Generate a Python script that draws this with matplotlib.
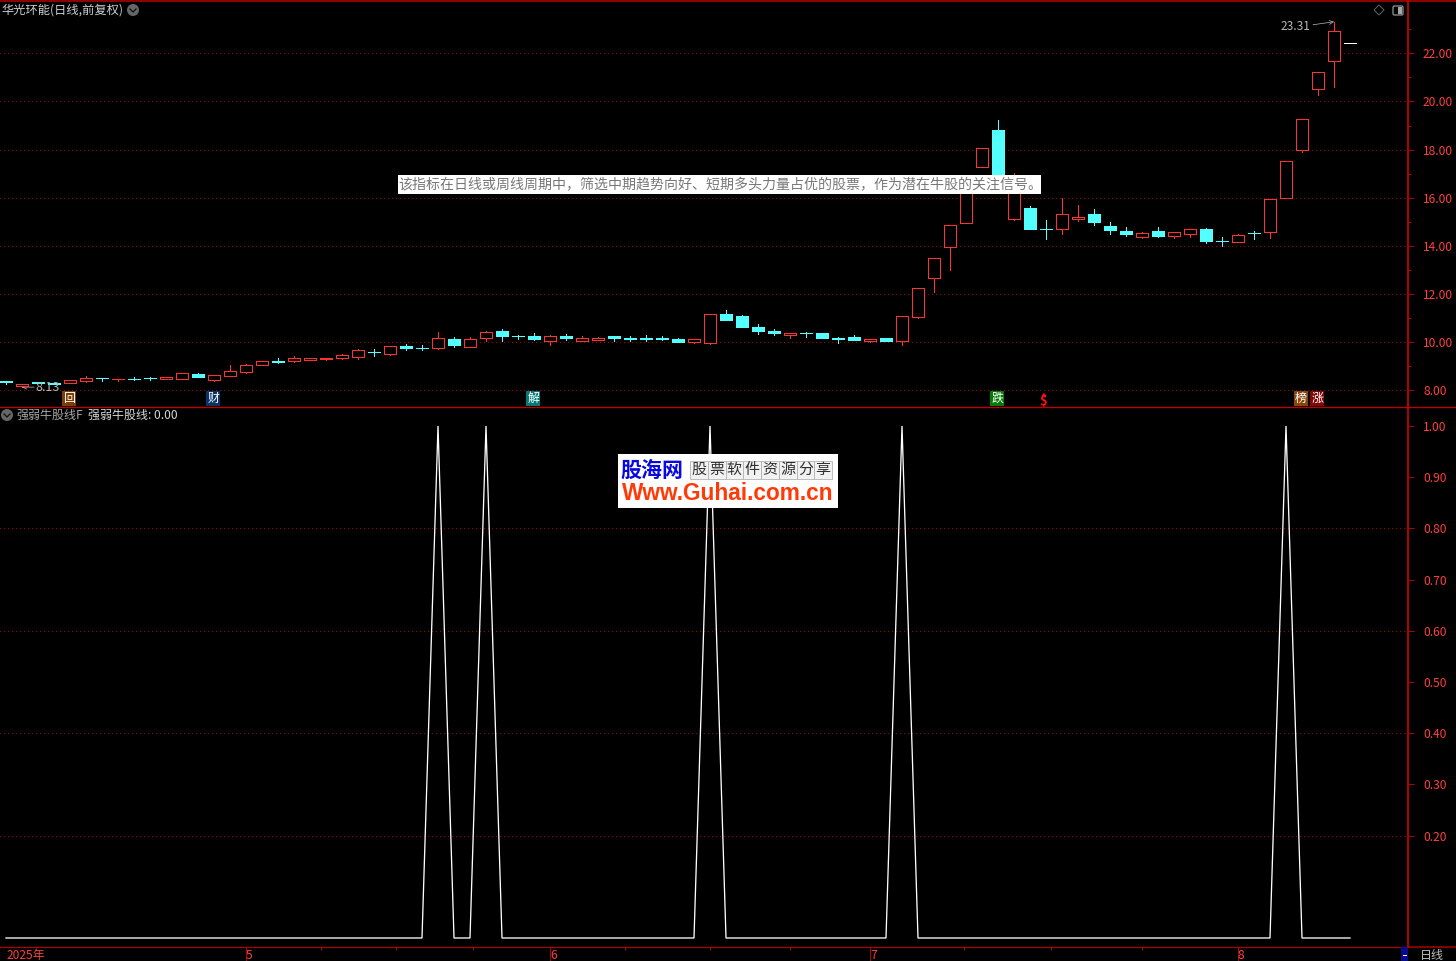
"""K-line chart with the bull/bear signal pane below it"""
import matplotlib
matplotlib.use("Agg")
import matplotlib.pyplot as plt
from matplotlib.patches import Circle, Polygon, Rectangle, FancyBboxPatch
from matplotlib.ticker import FixedLocator

plt.rcParams['font.family'] = ['Noto Sans CJK SC', 'DejaVu Sans']

opens = [8.37, 8.19, 8.33, 8.29, 8.29, 8.40, 8.50, 8.45, 8.46, 8.50, 8.48, 8.48, 8.66, 8.44, 8.60, 8.77, 9.04,
	9.20, 9.23, 9.27, 9.32, 9.35, 9.39, 9.58, 9.52, 9.84, 9.75, 9.77, 10.13, 9.81, 10.18, 10.46, 10.25, 10.25,
	10.06, 10.25, 10.06, 10.09, 10.25, 10.16, 10.16, 10.16, 10.13, 10.00, 9.95, 11.17, 11.09, 10.63, 10.46,
	10.30, 10.37, 10.38, 10.16, 10.21, 10.05, 10.17, 10.06, 11.06, 12.65, 13.96, 14.96, 17.29, 18.81, 15.13,
	15.57, 14.72, 14.71, 15.10, 15.32, 14.82, 14.62, 14.38, 14.62, 14.42, 14.51, 14.70, 14.20, 14.15, 14.53,
	14.56, 16.00, 17.99, 20.50, 21.69]
closes = [8.33, 8.25, 8.32, 8.28, 8.41, 8.50, 8.49, 8.46, 8.45, 8.49, 8.55, 8.71, 8.55, 8.62, 8.79, 9.04, 9.20,
	9.19, 9.33, 9.34, 9.33, 9.45, 9.66, 9.57, 9.83, 9.76, 9.74, 10.16, 9.88, 10.12, 10.41, 10.25, 10.24, 10.13,
	10.24, 10.17, 10.16, 10.17, 10.17, 10.15, 10.15, 10.15, 10.00, 10.12, 11.16, 10.92, 10.63, 10.46, 10.38,
	10.38, 10.36, 10.17, 10.15, 10.09, 10.13, 10.05, 11.07, 12.24, 13.48, 14.85, 16.80, 18.05, 16.82, 16.53,
	14.70, 14.71, 15.31, 15.19, 14.99, 14.66, 14.49, 14.52, 14.41, 14.56, 14.69, 14.20, 14.19, 14.44, 14.52,
	15.93, 17.51, 19.26, 21.21, 22.91]
highs = [8.37, 8.25, 8.33, 8.29, 8.41, 8.59, 8.50, 8.46, 8.56, 8.56, 8.55, 8.71, 8.72, 8.62, 9.05, 9.09, 9.20,
	9.34, 9.42, 9.34, 9.33, 9.49, 9.70, 9.71, 9.83, 9.92, 9.88, 10.42, 10.21, 10.21, 10.46, 10.55, 10.31, 10.38,
	10.30, 10.34, 10.24, 10.21, 10.25, 10.25, 10.30, 10.25, 10.17, 10.12, 11.16, 11.34, 11.13, 10.75, 10.55,
	10.38, 10.42, 10.38, 10.21, 10.30, 10.13, 10.17, 11.07, 12.24, 13.48, 14.85, 16.80, 18.05, 19.23, 17.01,
	15.66, 15.06, 15.99, 15.70, 15.53, 14.99, 14.79, 14.58, 14.79, 14.56, 14.69, 14.74, 14.37, 14.48, 14.62,
	15.93, 17.51, 19.26, 21.21, 23.31]
lows = [8.26, 8.13, 8.29, 8.25, 8.29, 8.36, 8.40, 8.40, 8.43, 8.43, 8.46, 8.48, 8.55, 8.39, 8.60, 8.73, 9.04,
	9.15, 9.17, 9.27, 9.26, 9.30, 9.30, 9.44, 9.47, 9.67, 9.67, 9.71, 9.80, 9.81, 10.05, 10.05, 10.13, 10.09,
	9.88, 10.09, 10.06, 10.09, 10.05, 10.05, 10.05, 10.09, 10.00, 9.96, 9.92, 10.92, 10.63, 10.34, 10.30,
	10.17, 10.21, 10.17, 9.96, 10.09, 10.00, 10.05, 9.88, 11.02, 12.09, 13.01, 14.93, 17.29, 16.82, 15.09,
	14.70, 14.30, 14.50, 15.03, 14.87, 14.49, 14.41, 14.34, 14.37, 14.34, 14.38, 14.12, 14.00, 14.15, 14.29,
	14.33, 16.00, 17.90, 20.27, 20.60]
last_price = 22.41

signal_days = [27, 30, 44, 56, 80]
signal = [1.0 if i in signal_days else 0.0 for i in range(85)]

price_ticks = [8, 10, 12, 14, 16, 18, 20, 22]
price_minor = [9, 11, 13, 15, 17, 19, 21, 23]
signal_ticks = [0.2, 0.3, 0.4, 0.5, 0.6, 0.7, 0.8, 0.9, 1.0]
signal_grid = [0.2, 0.4, 0.6, 0.8]
month_pos = [15, 34, 54, 77]
month_labels = ['5', '6', '7', '8']
week_pos = [19.7, 24.4, 29.2, 38.7, 44, 49, 59.9, 65.3, 71]

sign_pos = [4, 13, 33, 62, 81, 82]
sign_text = ['回', '财', '解', '跌', '榜', '涨']
sign_bg = ['#7a3e08', '#0a3468', '#067878', '#067a06', '#84480c', '#800808']

title = '华光环能(日线,前复权)'
pane_name = '强弱牛股线F'
pane_value = '强弱牛股线: 0.00'
note = '该指标在日线或周线周期中，筛选中期趋势向好、短期多头力量占优的股票，作为潜在牛股的关注信号。'
logo_cn = '股海网'
logo_cells = '股票软件资源分享'
logo_url = 'Www.Guhai.com.cn'

RED = '#ff3232'
CYAN = '#54ffff'
AXIS = '#b00000'
TEXT = '#ff4040'
GRID = '#a00000'
PX = 0.72  # one pixel in points at dpi 100
LINE = 0.9 * PX
W, H = 1456, 961


def px_rect(left, top, right, bottom):
	return [left / W, 1 - bottom / H, (right - left) / W, (bottom - top) / H]


def draw_candles(ax):
	for i, (o, c, h, l) in enumerate(zip(opens, closes, highs, lows)):
		if c >= o:
			ax.vlines(i, c, h, color=RED, lw=LINE, antialiased=False, zorder=3)
			ax.vlines(i, l, o, color=RED, lw=LINE, antialiased=False, zorder=3)
			ax.bar(i, c - o, bottom=o, width=0.75, facecolor='black', edgecolor=RED, lw=LINE,
				antialiased=False, zorder=4)
		else:
			ax.vlines(i, l, h, color=CYAN, lw=LINE, antialiased=False, zorder=3)
			ax.bar(i, c - o, bottom=o, width=0.75, facecolor=CYAN, edgecolor=CYAN, lw=LINE,
				antialiased=False, zorder=4)
	ax.hlines(last_price, 84 - 0.375, 84 + 0.375, color='white', lw=LINE, antialiased=False, zorder=4)


def style_axis(ax):
	ax.set_facecolor('black')
	ax.yaxis.tick_right()
	for name in ['left', 'bottom', 'top']:
		ax.spines[name].set_visible(False)
	ax.spines['right'].set_color(AXIS)
	ax.spines['right'].set_linewidth(2 * PX)
	ax.tick_params(axis='y', which='major', length=6 * PX, width=PX, color=AXIS, labelcolor=TEXT,
		labelsize=12 * PX, pad=9 * PX)
	ax.tick_params(axis='y', which='minor', length=3 * PX, width=PX, color=AXIS)


def chevron_button(ax, x, y):
	ax.add_patch(Circle((x, y), 6, facecolor='#666666', edgecolor='none'))
	ax.plot([x - 3, x, x + 3], [y - 1, y + 2, y - 1], color='#111111', lw=1.3 * PX)


if __name__ == "__main__":
	fig = plt.figure(figsize=(W / 100, H / 100), dpi=100, facecolor='black')
	ax1 = fig.add_axes(px_rect(0, 0, 1408, 406))
	ax2 = fig.add_axes(px_rect(0, 407, 1408, 947))
	xlim = (-0.375, 87.625)

	# Price pane
	style_axis(ax1)
	ax1.set_xlim(*xlim)
	ax1.set_ylim(7.347, 24.214)
	ax1.set_xticks([])
	ax1.yaxis.set_major_locator(FixedLocator(price_ticks))
	ax1.yaxis.set_minor_locator(FixedLocator(price_minor))
	ax1.set_yticklabels(['%.2f' % v for v in price_ticks])
	for v in price_ticks:
		ax1.axhline(v, color=GRID, lw=0.8 * PX, ls=(0, (1, 4)), antialiased=False, zorder=1)
	draw_candles(ax1)

	ax1.annotate('23.31', xy=(83, 23.31), xytext=(-53 * PX, -5 * PX), textcoords='offset points',
		color='#b8b8b8', fontsize=12 * PX, ha='left', va='center', zorder=6)
	ax1.annotate('', xy=(83, 23.31), xytext=(-21 * PX, -3 * PX), textcoords='offset points',
		arrowprops=dict(arrowstyle='->', color='#b8b8b8', lw=0.7 * PX, shrinkA=0, shrinkB=0, mutation_scale=7))
	ax1.annotate('8.13', xy=(1, 8.13), xytext=(13 * PX, 0), textcoords='offset points',
		color='#b8b8b8', fontsize=12.5 * PX, ha='left', va='center', zorder=6)
	ax1.annotate('', xy=(1, 8.13), xytext=(12 * PX, 0), textcoords='offset points',
		arrowprops=dict(arrowstyle='->', color='#b8b8b8', lw=0.7 * PX, shrinkA=0, shrinkB=0, mutation_scale=7))

	trans = ax1.get_xaxis_transform()
	for pos, txt, bg in zip(sign_pos, sign_text, sign_bg):
		ax1.text(pos - 0.05, 0.0185, txt, transform=trans, color='white', fontsize=12 * PX, ha='center', va='center',
			bbox=dict(boxstyle='square,pad=0.08', facecolor=bg, edgecolor='none'), zorder=6)
	ax1.text(64.85, 0.0135, '$', transform=trans, color='#ff1010', fontsize=13 * PX, fontweight='bold',
		ha='center', va='center', parse_math=False, zorder=6)

	# Signal pane
	style_axis(ax2)
	ax2.set_xlim(*xlim)
	ax2.set_ylim(-0.0176, 1.0371)
	ax2.yaxis.set_major_locator(FixedLocator(signal_ticks))
	ax2.set_yticklabels(['%.2f' % v for v in signal_ticks])
	for v in signal_grid:
		ax2.axhline(v, color=GRID, lw=0.8 * PX, ls=(0, (1, 4)), antialiased=False, zorder=1)
	ax2.plot(range(len(signal)), signal, color='white', lw=1.3 * PX, solid_joinstyle='miter', zorder=3)

	ax2.spines['bottom'].set_visible(True)
	ax2.spines['bottom'].set_color(AXIS)
	ax2.spines['bottom'].set_linewidth(1.2 * PX)
	ax2.xaxis.set_major_locator(FixedLocator(month_pos))
	ax2.xaxis.set_minor_locator(FixedLocator(week_pos))
	ax2.set_xticklabels([''] * len(month_pos))
	ax2.tick_params(axis='x', which='major', length=14 * PX, width=PX, color=AXIS)
	ax2.tick_params(axis='x', which='minor', length=3 * PX, width=PX, color=AXIS)
	xtrans = ax2.get_xaxis_transform()
	ax2.annotate('2025年', xy=(-0.1, 0), xycoords=xtrans, xytext=(2 * PX, -2 * PX), textcoords='offset points',
		color=TEXT, fontsize=12 * PX, ha='left', va='top', annotation_clip=False)
	for pos, txt in zip(month_pos, month_labels):
		ax2.annotate(txt, xy=(pos, 0), xycoords=xtrans, xytext=(0, -2 * PX), textcoords='offset points',
			color=TEXT, fontsize=12 * PX, ha='left', va='top', annotation_clip=False)

	# Frame, headers, note and logo drawn on a pixel overlay
	top = fig.add_axes([0, 0, 1, 1], zorder=10)
	top.set_xlim(0, W)
	top.set_ylim(H, 0)
	top.axis('off')
	top.patch.set_alpha(0)

	top.plot([0, W], [0.5, 0.5], color='#c00000', lw=1.5 * PX)
	top.plot([0, W], [406.5, 406.5], color='#c00000', lw=1.3 * PX)
	top.plot([1408, W], [947, 947], color=AXIS, lw=1.5 * PX)

	top.text(1, 10, title, color='#d0d0d0', fontsize=12.2 * PX, va='center', ha='left')
	chevron_button(top, 133, 10)
	chevron_button(top, 7, 415)
	top.text(16, 415, pane_name, color='#a8a8a8', fontsize=12 * PX, va='center', ha='left')
	top.text(88, 415, pane_value, color='#d8d8d8', fontsize=12 * PX, va='center', ha='left')

	# Window icons
	top.add_patch(Polygon([(1379, 5), (1384, 10), (1379, 15), (1374, 10)], closed=True, fill=False,
		edgecolor='#606060', lw=PX))
	top.add_patch(FancyBboxPatch((1393, 6), 10, 9, boxstyle='round,pad=0,rounding_size=1.5', facecolor='black',
		edgecolor='#909090', lw=1.3 * PX))
	top.add_patch(Rectangle((1398, 7), 4, 7, facecolor='#a8a8a8', edgecolor='none'))

	# Red dollar flag and period box
	top.add_patch(Polygon([(1044, 393), (1041.5, 396), (1046.5, 396)], closed=True, facecolor='#ff1010', edgecolor='none'))
	top.add_patch(Rectangle((1401, 947), 7, 14, facecolor='#0a0a90', edgecolor='none'))
	top.plot([1403, 1406], [955, 955], color='white', lw=PX)
	top.text(1432, 955, '日线', color='#c0c0c0', fontsize=12 * PX, ha='center', va='center')

	# Floating description
	top.add_patch(Rectangle((398, 175), 643, 19, facecolor='white', edgecolor='none'))
	top.text(398, 185.5, note, color='#787878', fontsize=14 * PX, ha='left', va='center')

	# Site logo
	top.add_patch(Rectangle((618, 454), 220, 54, facecolor='white', edgecolor='none'))
	top.text(652, 470.5, logo_cn, color='#0808e0', fontsize=21 * PX, fontweight='bold', ha='center', va='center')
	for i, ch in enumerate(logo_cells):
		cx = 690 + 17.75 * i
		top.add_patch(Rectangle((cx, 461), 17.75, 18, facecolor='#f2f2f2', edgecolor='#b0b0b0', lw=0.8 * PX))
		top.text(cx + 8.9, 470, ch, color='#303030', fontsize=15 * PX, ha='center', va='center')
	top.text(728, 493, logo_url, color='#ff3a08', fontsize=22.6 * PX, fontweight='bold',
		family='Liberation Sans', ha='center', va='center')

	fig.savefig('out.png', dpi=100, facecolor='black')
